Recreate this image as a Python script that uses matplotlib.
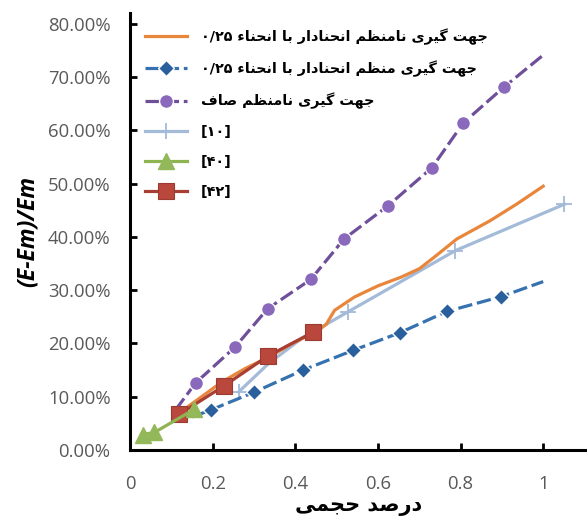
import numpy as np
import matplotlib
matplotlib.use("Agg")
import matplotlib.pyplot as plt
from matplotlib.ticker import FuncFormatter

# ─────────────────────────────────────────────────────────────────
# DATA  (x = volume fraction, y = (E-Em)/Em in %)
# ─────────────────────────────────────────────────────────────────
orange_x = [0.12, 0.223, 0.279, 0.335, 0.391, 0.455, 0.475, 0.495, 0.543, 0.60,
            0.655, 0.70, 0.735, 0.791, 0.871, 0.935, 1.0]
orange_y = [7.0, 12.8, 15.3, 17.4, 19.9, 22.4, 23.6, 26.2, 28.7, 30.8,
            32.4, 34.0, 36.1, 39.6, 43.0, 46.1, 49.5]

blue_x = [0.151, 0.195, 0.299, 0.419, 0.540, 0.653, 0.767, 0.899, 1.0]
blue_y = [6.2, 7.5, 10.8, 15.0, 18.7, 22.0, 26.0, 28.8, 31.6]

purple_x = [0.11, 0.159, 0.254, 0.333, 0.4375, 0.518, 0.624, 0.731, 0.807, 0.905, 1.0]
purple_y = [7.5, 12.6, 19.3, 26.5, 32.0, 39.6, 45.8, 53.0, 61.4, 68.1, 74.1]

ref10_x = [0.263, 0.335, 0.415, 0.527, 0.787, 1.051]
ref10_y = [10.9, 16.2, 20.9, 25.9, 37.4, 46.1]

ref40_x = [0.031, 0.059, 0.155]
ref40_y = [2.9, 3.3, 7.6]

ref42_x = [0.119, 0.227, 0.333, 0.443]
ref42_y = [6.7, 12.0, 17.6, 22.1]

labels = ["جهت گیری نامنظم انحنادار با انحناء ۰/۲۵",
          "جهت گیری منظم انحنادار با انحناء ۰/۲۵",
          "جهت گیری نامنظم صاف",
          "[۱۰]", "[۴۰]", "[۴۲]"]
xlabel = "درصد حجمی"
ylabel = "(E-Em)/Em"

# ─────────────────────────────────────────────────────────────────
# minimal Persian shaping (matplotlib has no bidi / joining)
# forms: isolated, final, initial, medial
# ─────────────────────────────────────────────────────────────────
FORMS = {
    "\u0621": ("\uFE80", None, None, None),
    "\u0627": ("\uFE8D", "\uFE8E", None, None),
    "\u0628": ("\uFE8F", "\uFE90", "\uFE91", "\uFE92"),
    "\u062A": ("\uFE95", "\uFE96", "\uFE97", "\uFE98"),
    "\u062C": ("\uFE9D", "\uFE9E", "\uFE9F", "\uFEA0"),
    "\u062D": ("\uFEA1", "\uFEA2", "\uFEA3", "\uFEA4"),
    "\u062F": ("\uFEA9", "\uFEAA", None, None),
    "\u0631": ("\uFEAD", "\uFEAE", None, None),
    "\u0635": ("\uFEB9", "\uFEBA", "\uFEBB", "\uFEBC"),
    "\u0638": ("\uFEC5", "\uFEC6", "\uFEC7", "\uFEC8"),
    "\u0641": ("\uFED1", "\uFED2", "\uFED3", "\uFED4"),
    "\u0645": ("\uFEE1", "\uFEE2", "\uFEE3", "\uFEE4"),
    "\u0646": ("\uFEE5", "\uFEE6", "\uFEE7", "\uFEE8"),
    "\u0647": ("\uFEE9", "\uFEEA", "\uFEEB", "\uFEEC"),
    "\u06AF": ("\uFB92", "\uFB93", "\uFB94", "\uFB95"),
    "\u06CC": ("\uFBFC", "\uFBFD", "\uFBFE", "\uFBFF"),
}


def shape_word(w):
    out = []
    for i, c in enumerate(w):
        f = FORMS.get(c)
        if f is None:
            out.append(c)
            continue
        prev = w[i - 1] if i > 0 else None
        nxt = w[i + 1] if i + 1 < len(w) else None
        jp = prev in FORMS and FORMS[prev][2] is not None and f[1] is not None
        jn = nxt in FORMS and f[2] is not None and FORMS[nxt][1] is not None
        if jp and jn:
            out.append(f[3])
        elif jp:
            out.append(f[1])
        elif jn:
            out.append(f[2])
        else:
            out.append(f[0])
    return "".join(out)


def fa(text):
    words = text.split(" ")
    if not any(ch in FORMS for ch in text):
        return text
    vis = []
    for w in reversed(words):
        if any(ch in FORMS for ch in w):
            vis.append(shape_word(w)[::-1])
        else:
            vis.append(w)
    return " ".join(vis)


# ─────────────────────────────────────────────────────────────────
# PLOT
# ─────────────────────────────────────────────────────────────────
W, H = 587, 523
fig = plt.figure(figsize=(W / 100, H / 100), dpi=100)
ax = fig.add_axes([130 / W, (H - 450) / H, (W - 130) / W, (450 - 13) / H])

lw = 2.3
ax.plot(orange_x, orange_y, color="#e8873c", lw=lw, zorder=3, label=fa(labels[0]))
ax.plot(blue_x, blue_y, color="#3671b0", lw=lw, dashes=(4.5, 1.5), marker="D", ms=8.5,
        mfc="#2a5f9e", mec="white", mew=1.0, markevery=slice(1, -1), zorder=3,
        label=fa(labels[1]))
ax.plot(purple_x, purple_y, color="#6f4f9a", lw=lw, dashes=(4.5, 1.5), marker="o", ms=10,
        mfc="#8a68bb", mec="white", mew=1.0, markevery=slice(1, -1), zorder=3,
        label=fa(labels[2]))
ax.plot(ref10_x, ref10_y, color="#a3bad9", lw=lw, marker="+", ms=11, mew=1.3,
        markevery=[0, 3, 4, 5], zorder=2, label=labels[3])
ax.plot(ref40_x, ref40_y, color="#8fb452", lw=lw, marker="^", ms=11,
        mfc="#93b85a", mec="#93b85a", zorder=5, label=labels[4])
ax.plot(ref42_x, ref42_y, color="#a83e34", lw=lw, marker="s", ms=11,
        mfc="#b9473b", mec="#9a3a30", mew=0.8, zorder=4, label=labels[5])

ax.set_xlim(0, 1.106)
ax.set_ylim(0, 82)
ax.set_xticks([0, 0.2, 0.4, 0.6, 0.8, 1.0])
ax.set_yticks(np.arange(0, 81, 10))
ax.xaxis.set_major_formatter(FuncFormatter(lambda v, p: "%g" % round(v, 1)))
ax.yaxis.set_major_formatter(FuncFormatter(lambda v, p: "%.2f%%" % v))

for s in ["top", "right"]:
    ax.spines[s].set_visible(False)
for s in ["left", "bottom"]:
    ax.spines[s].set_linewidth(2.2)
ax.tick_params(direction="in", length=5, width=2, colors="black",
               labelcolor="#595959", labelsize=13.3, labelfontfamily="Open Sans")
ax.tick_params(axis="x", pad=18)
ax.tick_params(axis="y", pad=14)

ax.set_xlabel(fa(xlabel), fontsize=15, fontweight="bold", family=["DejaVu Sans"],
              labelpad=2)
ax.set_ylabel(ylabel, fontsize=16.5, fontweight="bold", style="italic",
              family=["Open Sans", "DejaVu Sans"], labelpad=6)

leg = ax.legend(loc="upper left", bbox_to_anchor=(138 / W, 1 - 21 / H),
                bbox_transform=fig.transFigure, frameon=False, borderpad=0,
                handlelength=2.9, handletextpad=0.95, labelspacing=1.1,
                prop={"family": ["DejaVu Sans"], "weight": "bold", "size": 10.4})

fig.savefig("out.png", dpi=100)
